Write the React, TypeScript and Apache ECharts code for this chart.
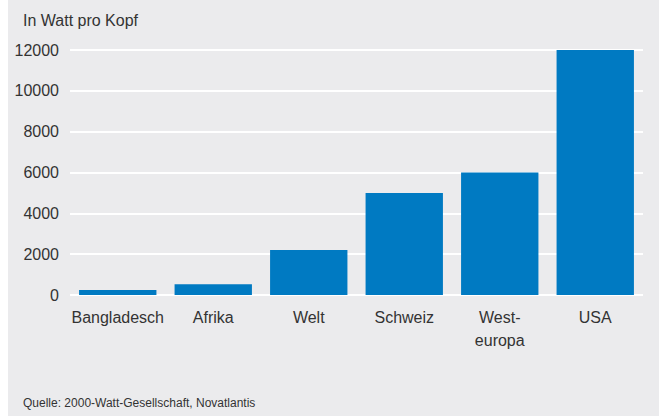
import React, { useEffect, useRef } from "react";
import * as echarts from "echarts";

const categories = ["Bangladesch", "Afrika", "Welt", "Schweiz", "West-\neuropa", "USA"];
const values = [250, 530, 2200, 5000, 6000, 12000];
const yTicks = [0, 2000, 4000, 6000, 8000, 10000, 12000];
const titleText = "In Watt pro Kopf";
const sourceText = "Quelle: 2000-Watt-Gesellschaft, Novatlantis";

const FONT = "'Liberation Sans', Arial, sans-serif";

export default function App() {
  const ref = useRef<HTMLDivElement>(null);
  useEffect(() => {
    if (!ref.current) return;
    const chart = echarts.init(ref.current, undefined, { renderer: "svg" });
    chart.setOption({
      animation: false,
      backgroundColor: "#ffffff",
      textStyle: { fontFamily: FONT },
      graphic: [
        { type: "rect", z: -10, silent: true, shape: { x: 8, y: 0, width: 651, height: 416 }, style: { fill: "#ebebed" } },
        { type: "text", left: 23, top: 12, style: { text: titleText, font: `16px ${FONT}`, fill: "#333333" } },
        { type: "text", left: 23, top: 397, style: { text: sourceText, font: `12px ${FONT}`, fill: "#333333" } },
      ],
      grid: { left: 70, right: 16, top: 50, bottom: 124, containLabel: false },
      xAxis: {
        type: "category",
        data: categories,
        axisLine: { show: false },
        axisTick: { show: false },
        axisLabel: { color: "#333333", fontSize: 16, fontFamily: FONT, margin: 11, lineHeight: 23, interval: 0 },
      },
      yAxis: {
        type: "value",
        min: yTicks[0],
        max: yTicks[yTicks.length - 1],
        interval: 2000,
        axisLine: { show: false },
        axisTick: { show: false },
        axisLabel: { color: "#333333", fontSize: 16, fontFamily: FONT, margin: 11, formatter: (v: number) => String(v) },
        splitLine: { lineStyle: { color: "#ffffff", width: 2 } },
      },
      series: [
        {
          type: "bar",
          data: values,
          barCategoryGap: "19%",
          itemStyle: { color: "#007ac2" },
        },
      ],
    });
    return () => chart.dispose();
  }, []);
  return (
    <div style={{ position: "fixed", left: 0, top: 0, width: 659, height: 419 }}>
      <div ref={ref} style={{ width: 659, height: 419 }} />
    </div>
  );
}
